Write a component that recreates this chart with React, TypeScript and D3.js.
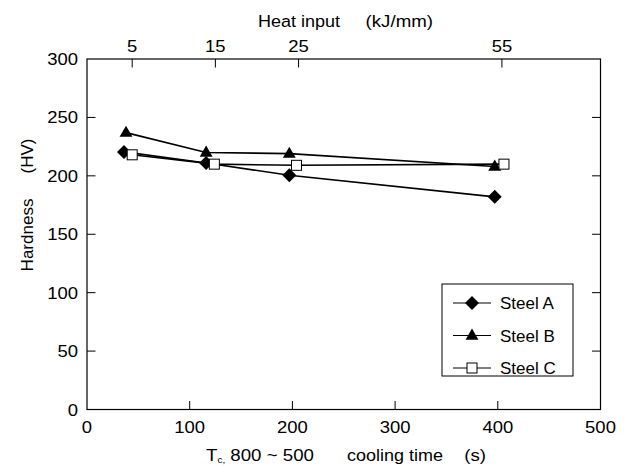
import React from "react";
import * as d3 from "d3";

const coolingTicks = [0, 100, 200, 300, 400, 500];
const hardnessTicks = [0, 50, 100, 150, 200, 250, 300];
const heatInputLabels = ["5", "15", "25", "55"];
const heatInputAtCooling = [44, 125, 206, 404];

const steelATime = [36, 116, 197, 397];
const steelAHV = [220.5, 211, 200.5, 182];
const steelBTime = [38, 116, 197, 397];
const steelBHV = [237, 220, 219, 208];
const steelCTime = [44, 124, 204, 406];
const steelCHV = [218, 210, 209, 210];

const seriesNames = ["Steel A", "Steel B", "Steel C"];

const W = 629;
const H = 466;
const FONT = "'Liberation Sans', Arial, Helvetica, sans-serif";

function SText({
  x,
  y,
  sx = 1,
  anchor = "start",
  size = 17,
  children,
}: {
  x: number;
  y: number;
  sx?: number;
  anchor?: string;
  size?: number;
  children: React.ReactNode;
}) {
  return (
    <text
      transform={`translate(${x},${y}) scale(${sx},1)`}
      textAnchor={anchor}
      fontSize={size}
      fill="#000"
      style={{ whiteSpace: "pre" }}
    >
      {children}
    </text>
  );
}

function Marker({ kind, x, y }: { kind: number; x: number; y: number }) {
  if (kind === 0) {
    const r = 7;
    return (
      <path
        d={`M${x},${y - r}L${x + r},${y}L${x},${y + r}L${x - r},${y}Z`}
        fill="#000"
      />
    );
  }
  if (kind === 1) {
    const sym = d3.symbol(d3.symbolTriangle, 72)();
    return <path d={sym || ""} transform={`translate(${x},${y + 0.5})`} fill="#000" />;
  }
  return (
    <rect x={x - 5} y={y - 5} width={10} height={10} fill="#fff" stroke="#000" strokeWidth={1} />
  );
}

export default function App() {
  const x = d3.scaleLinear().domain([0, 500]).range([87, 600.5]);
  const y = d3.scaleLinear().domain([0, 300]).range([409.5, 59]);
  const series = [
    { t: steelATime, v: steelAHV },
    { t: steelBTime, v: steelBHV },
    { t: steelCTime, v: steelCHV },
  ];
  const line = d3
    .line<[number, number]>()
    .x((d) => x(d[0]))
    .y((d) => y(d[1]));

  const x0 = x(0), x1 = x(500), y0 = y(0), y1 = y(300);
  const tick = 8.5;
  const TS = 1.12;

  return (
    <svg
      width={W}
      height={H}
      style={{ position: "absolute", left: 0, top: 0, display: "block" }}
      fontFamily={FONT}
    >
      <rect x={0} y={0} width={W} height={H} fill="#fff" />
      <rect x={x0} y={y1} width={x1 - x0} height={y0 - y1} fill="none" stroke="#000" strokeWidth={1.2} />
      {coolingTicks.map((v) => (
        <g key={"bx" + v}>
          {v > 0 && v < 500 && (
            <line x1={x(v)} x2={x(v)} y1={y0} y2={y0 - tick} stroke="#000" strokeWidth={1} />
          )}
          <SText x={x(v)} y={433} sx={TS} anchor="middle" size={16.5}>
            {String(v)}
          </SText>
        </g>
      ))}
      {hardnessTicks.map((v) => (
        <g key={"ly" + v}>
          {v > 0 && v < 300 && (
            <>
              <line x1={x0} x2={x0 + tick} y1={y(v)} y2={y(v)} stroke="#000" strokeWidth={1} />
              <line x1={x1} x2={x1 - tick} y1={y(v)} y2={y(v)} stroke="#000" strokeWidth={1} />
            </>
          )}
          <SText x={78} y={y(v) + 6} sx={TS} anchor="end" size={16.5}>
            {String(v)}
          </SText>
        </g>
      ))}
      {heatInputLabels.map((lab, i) => (
        <g key={"tx" + lab}>
          <line
            x1={x(heatInputAtCooling[i])}
            x2={x(heatInputAtCooling[i])}
            y1={y1}
            y2={y1 + tick}
            stroke="#000"
            strokeWidth={1}
          />
          <SText x={x(heatInputAtCooling[i])} y={52} sx={TS} anchor="middle" size={16.5}>
            {lab}
          </SText>
        </g>
      ))}
      <SText x={258} y={27} sx={1.06}>Heat input</SText>
      <SText x={433} y={27} sx={1.1} anchor="end">(kJ/mm)</SText>
      <text transform={`translate(206,461) scale(1.1,1)`} fontSize={17} style={{ whiteSpace: "pre" }}>
        <tspan>T</tspan>
        <tspan fontSize={9} dy={1.5}>c,</tspan>
        <tspan dy={-1.5}>{" 800 ~ 500"}</tspan>
      </text>
      <SText x={347} y={461} sx={1.06}>cooling time</SText>
      <SText x={486} y={461} sx={1.1} anchor="end">(s)</SText>
      <text transform="translate(33,235) rotate(-90)" textAnchor="middle" fontSize={17}>
        Hardness
      </text>
      <text transform="translate(33,156) rotate(-90)" textAnchor="middle" fontSize={17}>
        (HV)
      </text>
      {series.map((s, i) => (
        <path
          key={"l" + i}
          d={line(s.t.map((t, j) => [t, s.v[j]] as [number, number])) || ""}
          fill="none"
          stroke="#000"
          strokeWidth={1.6}
        />
      ))}
      {series.map((s, i) =>
        s.t.map((t, j) => <Marker key={`m${i}-${j}`} kind={i} x={x(t)} y={y(s.v[j])} />)
      )}
      <rect x={442} y={284} width={131} height={92} fill="#fff" stroke="#000" strokeWidth={1} />
      {seriesNames.map((name, i) => {
        const ly = 303 + i * 32.5;
        return (
          <g key={"lg" + i}>
            <line x1={453} x2={491} y1={ly} y2={ly} stroke="#000" strokeWidth={1} />
            <Marker kind={i} x={472} y={ly} />
            <SText x={500} y={ly + 6} size={17}>
              {name}
            </SText>
          </g>
        );
      })}
    </svg>
  );
}
